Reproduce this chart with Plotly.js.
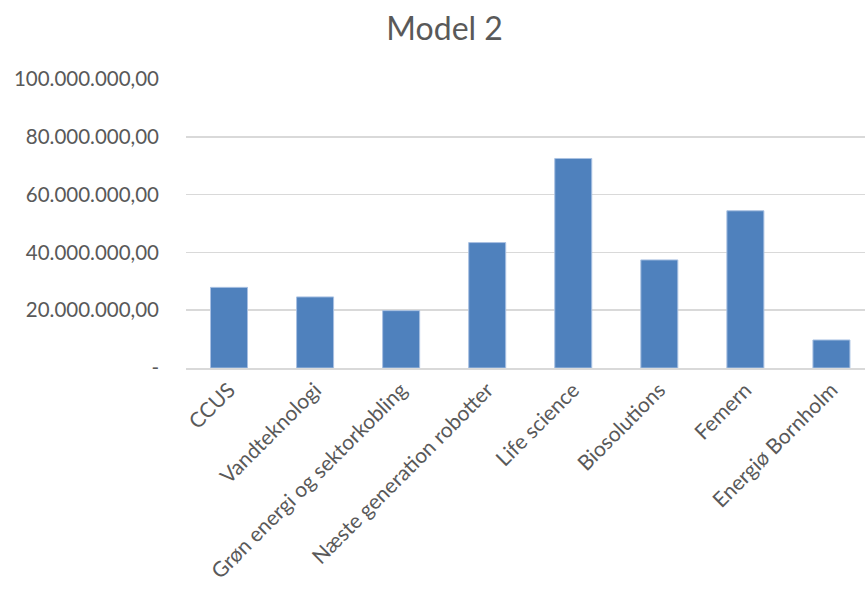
<!DOCTYPE html>
<html>
<head>
<meta charset="utf-8">
<script src="https://cdn.plot.ly/plotly-3.0.1.min.js"></script>
<style>html,body{margin:0;padding:0;background:#fff;}#chart{width:865px;height:592px;}</style>
</head>
<body>
<div id="chart"></div>
<script>
var categories = ["CCUS", "Vandteknologi", "Grøn energi og sektorkobling", "Næste generation robotter", "Life science", "Biosolutions", "Femern", "Energiø Bornholm"];
var values = [27900000, 24600000, 19850000, 43400000, 72500000, 37400000, 54400000, 9700000];
var yTickVals = [0, 20000000, 40000000, 60000000, 80000000, 100000000];
var yTickText = ["-", "20.000.000,00", "40.000.000,00", "60.000.000,00", "80.000.000,00", "100.000.000,00"];

var font = "Lato, 'Open Sans', sans-serif";
var trace = {
  type: "bar",
  x: categories,
  y: values,
  marker: {color: "#4F81BD", line: {color: "#a9c1e2", width: 1}},
  hoverinfo: "x+y"
};
var layout = {
  width: 865, height: 592,
  margin: {l: 186, r: 0, t: 79, b: 224},
  paper_bgcolor: "#ffffff",
  plot_bgcolor: "#ffffff",
  showlegend: false,
  bargap: 0.57,
  title: {text: "Model 2", font: {family: font, size: 32, color: "#595959"}, x: 0.514, xref: "container", xanchor: "center", y: 0.952, yref: "container", yanchor: "middle"},
  xaxis: {
    type: "category",
    range: [-0.5, 7.39],
    tickangle: -45,
    tickfont: {family: font, size: 21, color: "#595959"},
    showgrid: false,
    showline: true, linecolor: "#d9d9d9", linewidth: 1.5,
    ticks: "", automargin: false
  },
  yaxis: {
    range: [0, 100000000],
    tickvals: yTickVals,
    ticktext: yTickText,
    tickfont: {family: font, size: 20.5, color: "#595959"},
    showgrid: true, gridcolor: "#d9d9d9", gridwidth: 1.5,
    zeroline: false, showline: false,
    ticks: "", ticklabelstandoff: 26, automargin: false
  }
};
Plotly.newPlot("chart", [trace], layout, {displayModeBar: false, staticPlot: true});
</script>
</body>
</html>
